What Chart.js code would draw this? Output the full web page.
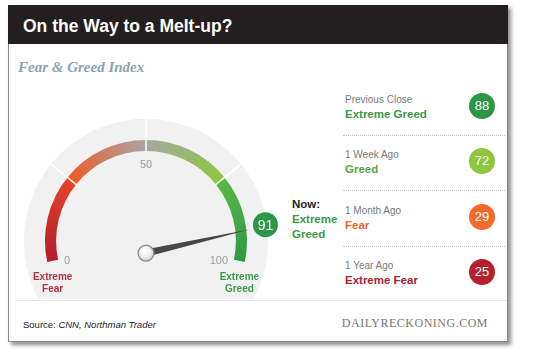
<!DOCTYPE html>
<html>
<head>
<meta charset="utf-8">
<script src="https://cdn.jsdelivr.net/npm/chart.js@4.4.0/dist/chart.umd.min.js"></script>
<style>
html,body{margin:0;padding:0;background:#fff;width:540px;height:354px;overflow:hidden;font-family:"Liberation Sans",Arial,sans-serif;}
.abs{position:absolute;white-space:nowrap;}
#frame{position:absolute;left:8px;top:5px;width:500px;height:337px;box-sizing:border-box;border:1px solid #8a8a8a;background:#fff;box-shadow:3px 3px 4px rgba(0,0,0,0.45);}
#header{position:absolute;left:8px;top:5px;width:500px;height:39px;background:#231f20;}
#title{left:23px;top:16px;font-size:17.5px;line-height:20px;font-weight:bold;color:#fff;}
#subtitle{left:18px;top:58px;font-family:"Liberation Serif",serif;font-style:italic;font-weight:bold;font-size:15px;line-height:18px;color:#8aa2b4;}
#gaugeBox{position:absolute;left:11px;top:90px;width:270px;height:209px;}
#now{left:292px;top:197px;font-size:11.5px;line-height:15px;font-weight:bold;}
.lbl{font-size:10px;line-height:12px;color:#7a7a7a;}
.st{font-size:11.5px;line-height:14px;font-weight:bold;}
.bub{position:absolute;width:26px;height:26px;border-radius:50%;color:#fff;font-size:13px;line-height:26px;text-align:center;}
.sep{position:absolute;left:343px;width:162px;height:0;border-top:1px dotted #c4c4c4;}
#bottomLine{position:absolute;left:17px;top:300px;width:490px;height:1px;background:#e6e6e6;}
#source{left:23px;top:319px;font-size:9.5px;line-height:12px;color:#222;}
#brand{right:52px;top:316px;font-family:"Liberation Serif",serif;font-size:12px;line-height:14px;letter-spacing:0.5px;color:#777;}
</style>
</head>
<body>
<div id="frame"></div>
<div id="header"></div>
<div id="title" class="abs">On the Way to a Melt-up?</div>
<div id="subtitle" class="abs">Fear &amp; Greed Index</div>
<div id="gaugeBox"><canvas id="gauge" width="270" height="209"></canvas></div>
<div id="now" class="abs"></div>
<div id="panel"></div>
<div id="bottomLine"></div>
<div id="source" class="abs">Source: <i>CNN, Northman Trader</i></div>
<div id="brand" class="abs">DAILYRECKONING.COM</div>
<script>
// ---- data ----
const bandNames = ['Extreme Fear', 'Fear', 'Greed', 'Extreme Greed'];
const gaugeBands = [25, 25, 25, 25];
const bandStartColors = ['#b31c2c', '#f15a24', '#a4a9a2', '#5bb747'];
const bandEndColors = ['#e5432a', '#aaa5a3', '#8cc63f', '#2c9a47'];
const tickValues = [0, 50, 100];
const tickLabels = ['0', '50', '100'];
const endLabels = ['Extreme\nFear', 'Extreme\nGreed'];
const endLabelColors = ['#b5303c', '#3a9a4c'];
const nowValue = 91;
const nowStatus = 'Extreme Greed';
const historyLabels = ['Previous Close', '1 Week Ago', '1 Month Ago', '1 Year Ago'];
const historyStatus = ['Extreme Greed', 'Greed', 'Fear', 'Extreme Fear'];
const historyValues = [88, 72, 29, 25];
const statusTextColors = {'Extreme Greed': '#399a48', 'Greed': '#55a83e', 'Fear': '#e8682e', 'Extreme Fear': '#b0202e'};
const statusFillColors = {'Extreme Greed': '#2b9846', 'Greed': '#8dc641', 'Fear': '#f26b2b', 'Extreme Fear': '#b61f2d'};

// ---- HTML panel ----
const nowEl = document.getElementById('now');
nowEl.innerHTML = '<div style="color:#222">Now:</div>' +
  nowStatus.split(' ').map(w => '<div style="color:' + statusTextColors[nowStatus] + '">' + w + '</div>').join('');
const panel = document.getElementById('panel');
historyLabels.forEach((lab, i) => {
  const y0 = 100 + 55.3 * i;
  const l = document.createElement('div');
  l.className = 'abs lbl'; l.style.left = '345px'; l.style.top = (y0 - 6) + 'px'; l.textContent = lab;
  panel.appendChild(l);
  const s = document.createElement('div');
  s.className = 'abs st'; s.style.left = '345px'; s.style.top = (y0 + 7) + 'px';
  s.style.color = statusTextColors[historyStatus[i]]; s.textContent = historyStatus[i];
  panel.appendChild(s);
  const b = document.createElement('div');
  b.className = 'bub'; b.style.left = '469px'; b.style.top = (y0 - 7) + 'px';
  b.style.background = statusFillColors[historyStatus[i]]; b.textContent = historyValues[i];
  panel.appendChild(b);
  if (i < historyLabels.length - 1) {
    const sp = document.createElement('div');
    sp.className = 'sep'; sp.style.top = (y0 + 35) + 'px';
    panel.appendChild(sp);
  }
});

// ---- gauge ----
const ROT = -102, SPAN = 204;
const total = gaugeBands.reduce((a, b) => a + b, 0);
const scaleMin = tickValues[0], scaleMax = tickValues[tickValues.length - 1];

function bandGradient(ctx) {
  const i = ctx.dataIndex;
  const chart = ctx.chart, ca = chart.chartArea;
  if (i === undefined || !ca) return bandStartColors[0];
  const ctrl = chart.getDatasetMeta(0).controller;
  const cx = (ca.left + ca.right) / 2 + (ctrl.offsetX || 0);
  const cy = (ca.top + ca.bottom) / 2 + (ctrl.offsetY || 0);
  let before = 0;
  for (let k = 0; k < i; k++) before += gaugeBands[k];
  const span = SPAN * Math.PI / 180;
  const a0 = (ROT - 90) * Math.PI / 180 + before / total * span;
  const frac = gaugeBands[i] / total * span / (2 * Math.PI);
  const g = chart.ctx.createConicGradient(a0, cx, cy);
  g.addColorStop(0, bandStartColors[i]);
  g.addColorStop(frac, bandEndColors[i]);
  g.addColorStop(1, bandStartColors[i]);
  return g;
}

const gaugePlugin = {
  id: 'gaugeDecor',
  beforeDatasetsDraw(chart) {
    const meta = chart.getDatasetMeta(0);
    const a = meta.data[0];
    const c = chart.ctx;
    c.save();
    c.beginPath();
    c.rect(0, 0, chart.width, chart.height);
    c.clip();
    c.beginPath();
    c.arc(a.x, a.y, a.outerRadius * 1.21, 0, Math.PI * 2);
    c.fillStyle = '#f1f1f2';
    c.fill();
    c.restore();
  },
  afterDatasetsDraw(chart) {
    const meta = chart.getDatasetMeta(0);
    const first = meta.data[0], last = meta.data[meta.data.length - 1];
    const cx = first.x, cy = first.y, R = first.outerRadius, r = first.innerRadius;
    const A0 = first.startAngle, A1 = last.endAngle;
    const angleOf = v => A0 + (v - scaleMin) / (scaleMax - scaleMin) * (A1 - A0);
    const c = chart.ctx;
    c.save();
    // dividers between bands
    c.strokeStyle = '#ffffff';
    c.lineWidth = 1.5;
    for (let k = 0; k < meta.data.length - 1; k++) {
      const ang = meta.data[k].endAngle;
      c.beginPath();
      c.moveTo(cx + (r - 1) * Math.cos(ang), cy + (r - 1) * Math.sin(ang));
      c.lineTo(cx + R * 1.21 * Math.cos(ang), cy + R * 1.21 * Math.sin(ang));
      c.stroke();
    }
    // tick labels
    c.fillStyle = '#9d9d9d';
    c.font = '11px "Liberation Sans", Arial, sans-serif';
    tickValues.forEach((v, i) => {
      const ang = angleOf(v);
      const cs = Math.cos(ang), sn = Math.sin(ang);
      let x = cx + (r - 6) * cs, y = cy + (r - 6) * sn;
      if (cs < -0.5) { c.textAlign = 'left'; c.textBaseline = 'middle'; y += 3; }
      else if (cs > 0.5) { c.textAlign = 'right'; c.textBaseline = 'middle'; y += 3; }
      else { c.textAlign = 'center'; c.textBaseline = 'top'; y += 2; }
      c.fillText(tickLabels[i], x, y);
    });
    // end labels
    c.font = 'bold 10px "Liberation Sans", Arial, sans-serif';
    c.textAlign = 'center';
    c.textBaseline = 'middle';
    [A0, A1].forEach((ang, i) => {
      const x = cx + (r + R) / 2 * Math.cos(ang);
      const y = cy + R * Math.sin(ang);
      c.fillStyle = endLabelColors[i];
      endLabels[i].split('\n').forEach((line, j) => c.fillText(line, x, y + 15 + j * 12));
    });
    // needle
    const th = angleOf(nowValue);
    const hx = cx, hy = cy + 0.12 * R;
    const tx = cx + (R + 4) * Math.cos(th), ty = cy + (R + 4) * Math.sin(th);
    const na = Math.atan2(ty - hy, tx - hx);
    const w = 3.6;
    c.beginPath();
    c.moveTo(hx + w * Math.cos(na - Math.PI / 2), hy + w * Math.sin(na - Math.PI / 2));
    c.lineTo(tx, ty);
    c.lineTo(hx + w * Math.cos(na + Math.PI / 2), hy + w * Math.sin(na + Math.PI / 2));
    c.closePath();
    c.fillStyle = '#474747';
    c.fill();
    // hub
    const hg = c.createRadialGradient(hx - 2, hy - 3, 1, hx, hy, 8);
    hg.addColorStop(0, '#ffffff');
    hg.addColorStop(0.6, '#f0f0f0');
    hg.addColorStop(1, '#c4c4c4');
    c.beginPath();
    c.arc(hx, hy, 8, 0, Math.PI * 2);
    c.fillStyle = hg;
    c.fill();
    c.lineWidth = 1.2;
    c.strokeStyle = '#8a8a8a';
    c.stroke();
    // value bubble
    const bx = cx + 1.19 * R * Math.cos(th), by = cy + 1.19 * R * Math.sin(th) - 3;
    c.beginPath();
    c.arc(bx, by, 12.5, 0, Math.PI * 2);
    c.fillStyle = statusFillColors[nowStatus];
    c.fill();
    c.fillStyle = '#ffffff';
    c.font = '14px "Liberation Sans", Arial, sans-serif';
    c.textAlign = 'center';
    c.textBaseline = 'middle';
    c.fillText(String(nowValue), bx, by + 1);
    c.restore();
  }
};

new Chart(document.getElementById('gauge'), {
  type: 'doughnut',
  data: {
    labels: bandNames,
    datasets: [{
      data: gaugeBands,
      backgroundColor: bandGradient,
      hoverBackgroundColor: bandGradient,
      borderWidth: 0
    }]
  },
  options: {
    responsive: false,
    animation: false,
    events: [],
    rotation: ROT,
    circumference: SPAN,
    cutout: '89%',
    radius: 101,
    layout: { padding: { top: 13, bottom: 0, left: 0, right: 0 } },
    plugins: { legend: { display: false }, tooltip: { enabled: false } }
  },
  plugins: [gaugePlugin]
});
</script>
</body>
</html>
